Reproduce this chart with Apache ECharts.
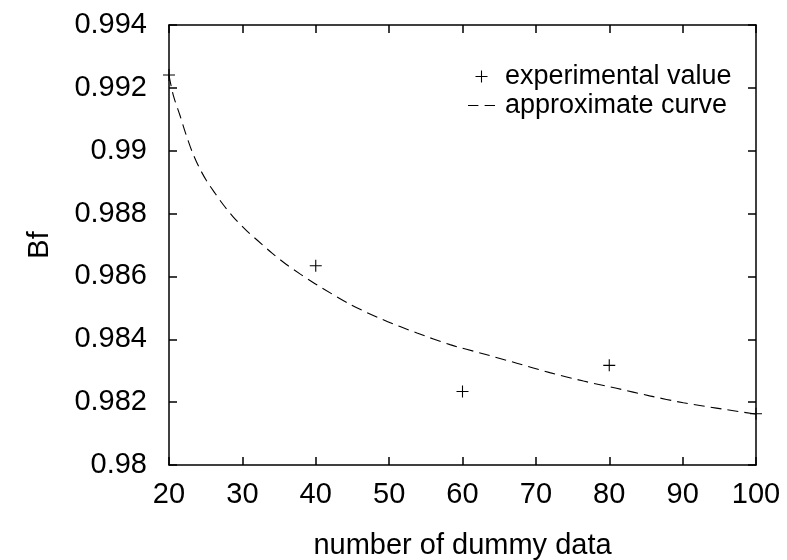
<!DOCTYPE html>
<html>
<head>
<meta charset="utf-8">
<script src="https://cdn.jsdelivr.net/npm/echarts@6/dist/echarts.min.js"></script>
<style>
html,body{margin:0;padding:0;background:#fff;}
#chart{width:787px;height:560px;}
</style>
</head>
<body>
<div id="chart"></div>
<script>
// Experimental values
const expX = [20, 40, 60, 80, 100];
const expY = [0.99241, 0.98634, 0.98234, 0.98317, 0.98163];

// Approximate curve
const curveX = [20, 20.6, 21.5, 22.2, 23.1, 24, 25.1, 26.3, 27.4, 28.8, 30.6, 32, 34, 36, 37.85, 39.9, 44.7, 49.2, 53.8, 58.3, 62.8, 67.4, 71.9, 76.5, 81, 85.5, 90.1, 94.6, 100];
const curveY = [0.99240, 0.99175, 0.99112, 0.99060, 0.99000, 0.98952, 0.98905, 0.98864, 0.98828, 0.98788, 0.98745, 0.98716, 0.98675, 0.98638, 0.98608, 0.98577, 0.98511, 0.98462, 0.98420, 0.98383, 0.98354, 0.98324, 0.98294, 0.98267, 0.98244, 0.98220, 0.98198, 0.98181, 0.98162];

// Tick labels
const xTicks = [20, 30, 40, 50, 60, 70, 80, 90, 100];
const yTicks = [0.98, 0.982, 0.984, 0.986, 0.988, 0.99, 0.992, 0.994];

const seriesNames = ['experimental value', 'approximate curve'];
const xTitle = 'number of dummy data';
const yTitle = 'Bf';

const FONT = '"Liberation Sans", Arial, sans-serif';
const plusPath = 'path://M0,4.55h10v0.9h-10z M4.55,0h0.9v10h-0.9z';
const dashPath = 'path://M0,0h10v1.1h-10z M16,0h10v1.1h-10z';

const chart = echarts.init(document.getElementById('chart'), null, {renderer: 'canvas'});

const xMin = xTicks[0], xMax = xTicks[xTicks.length - 1], xInt = xTicks[1] - xTicks[0];
const yMin = yTicks[0], yMax = yTicks[yTicks.length - 1], yInt = 0.002;

const baseAxisLine = {show: true, lineStyle: {color: '#000', width: 1.5}};
const baseTick = {show: true, inside: true, length: 8, lineStyle: {color: '#000', width: 1.5}};

chart.setOption({
  backgroundColor: '#fff',
  animation: false,
  grid: {left: 169, right: 31, top: 25, bottom: 95, containLabel: false, outerBoundsMode: 'none'},
  legend: {
    orient: 'vertical',
    left: 463,
    top: 58,
    itemWidth: 27,
    itemHeight: 12,
    itemGap: 2,
    textStyle: {fontFamily: FONT, fontSize: 27, color: '#000', padding: [0, 0, 0, 5]},
    data: [
      {name: seriesNames[0], icon: plusPath},
      {name: seriesNames[1], icon: dashPath}
    ]
  },
  xAxis: [{
    type: 'value', min: xMin, max: xMax, interval: xInt, position: 'bottom',
    name: xTitle, nameLocation: 'middle', nameGap: 66,
    nameTextStyle: {fontFamily: FONT, fontSize: 29, color: '#000'},
    axisLine: baseAxisLine, axisTick: baseTick,
    axisLabel: {fontFamily: FONT, fontSize: 29, color: '#000', margin: 15},
    splitLine: {show: false}
  }, {
    type: 'value', min: xMin, max: xMax, interval: xInt, position: 'top',
    axisLine: baseAxisLine, axisTick: baseTick, axisLabel: {show: false}, splitLine: {show: false}
  }],
  yAxis: [{
    type: 'value', min: yMin, max: yMax, interval: yInt, position: 'left',
    name: yTitle, nameLocation: 'middle', nameGap: 115, nameRotate: 90,
    nameTextStyle: {fontFamily: FONT, fontSize: 29, color: '#000'},
    axisLine: baseAxisLine, axisTick: baseTick,
    axisLabel: {fontFamily: FONT, fontSize: 29, color: '#000', margin: 22,
      formatter: v => String(parseFloat(v.toFixed(3)))},
    splitLine: {show: false}
  }, {
    type: 'value', min: yMin, max: yMax, interval: yInt, position: 'right',
    axisLine: baseAxisLine, axisTick: baseTick, axisLabel: {show: false}, splitLine: {show: false}
  }],
  series: [{
    name: seriesNames[0],
    type: 'scatter',
    symbol: plusPath,
    symbolSize: 12,
    itemStyle: {color: '#000', opacity: 1},
    data: expX.map((x, i) => [x, expY[i]]),
    z: 5
  }, {
    name: seriesNames[1],
    type: 'line',
    smooth: 0.3,
    showSymbol: false,
    symbol: 'none',
    lineStyle: {color: '#000', width: 1.1, type: [11, 6]},
    itemStyle: {color: '#000'},
    data: curveX.map((x, i) => [x, curveY[i]]),
    z: 4
  }]
});
</script>
</body>
</html>
